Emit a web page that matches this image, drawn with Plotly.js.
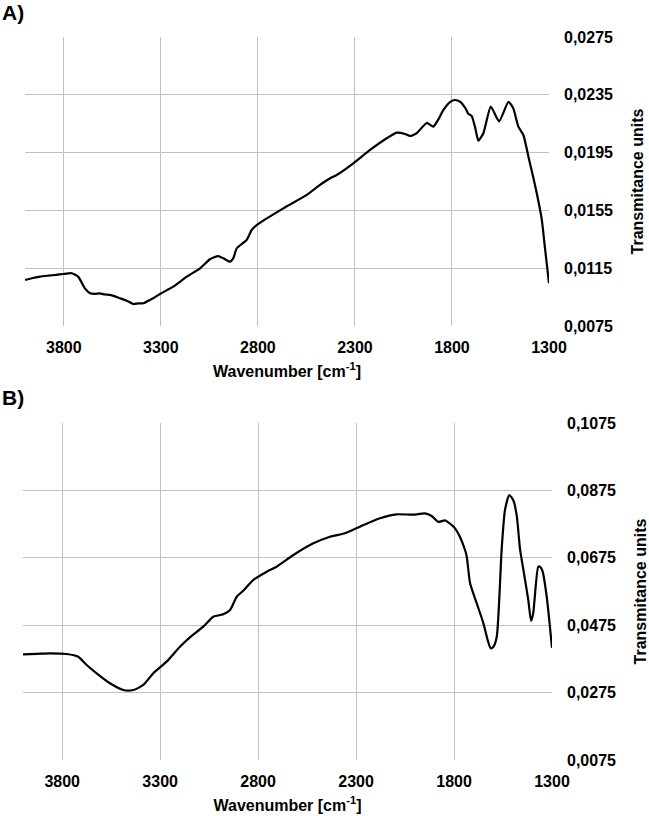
<!DOCTYPE html>
<html>
<head>
<meta charset="utf-8">
<script src="https://cdn.plot.ly/plotly-3.0.1.min.js"></script>
<style>
  body { margin: 0; background: #fff; }
  #chart { width: 649px; height: 816px; }
</style>
</head>
<body>
<div id="chart"></div>
<script>
// spectrum A (top panel)
var wnA = [4000, 3960, 3923, 3880, 3840, 3803, 3759, 3725, 3691, 3665, 3640, 3614, 3588, 3562,
  3536, 3510, 3476, 3442, 3416, 3390, 3365, 3339, 3299, 3236, 3167, 3098, 3047, 3004, 2978,
  2944, 2927, 2909, 2858, 2832, 2798, 2669, 2548, 2480, 2428, 2394, 2308, 2222, 2136, 2085,
  2042, 2016, 1982, 1930, 1896, 1870, 1844, 1810, 1784, 1758, 1730, 1716, 1698, 1680, 1664,
  1638, 1600, 1557, 1509, 1484, 1458, 1432, 1406, 1380, 1363, 1337, 1320, 1300];
var tA = [0.01068, 0.01082, 0.01091, 0.01098, 0.01104, 0.0111, 0.01115, 0.0109, 0.0101, 0.00976,
  0.00972, 0.00975, 0.00968, 0.00965, 0.00955, 0.00942, 0.00925, 0.00902, 0.00906, 0.00907,
  0.00925, 0.00942, 0.00976, 0.01022, 0.01091, 0.01149, 0.01212, 0.01234, 0.01218, 0.01195,
  0.01218, 0.01288, 0.01345, 0.01414, 0.01456, 0.01564, 0.01657, 0.01726, 0.01772, 0.01795,
  0.01876, 0.01968, 0.02049, 0.02088, 0.02079, 0.02065, 0.02084, 0.02155, 0.0213, 0.0218,
  0.02245, 0.023, 0.02314, 0.02302, 0.02255, 0.02218, 0.02203, 0.0212, 0.02032, 0.02084,
  0.02268, 0.02166, 0.02302, 0.02256, 0.0213, 0.02072, 0.01922, 0.01772, 0.01668, 0.01484,
  0.0128, 0.01045];

// spectrum B (bottom panel)
var wnB = [4000, 3930, 3862, 3777, 3718, 3675, 3624, 3556, 3488, 3437, 3386, 3335, 3267, 3199,
  3148, 3080, 3029, 2978, 2943, 2909, 2876, 2825, 2756, 2706, 2620, 2518, 2433, 2357, 2280,
  2178, 2093, 2008, 1948, 1914, 1880, 1846, 1812, 1795, 1770, 1744, 1735, 1718, 1684, 1650,
  1628, 1613, 1600, 1582, 1557, 1540, 1518, 1497, 1480, 1463, 1443, 1421, 1407, 1396, 1370,
  1360, 1348, 1327, 1300];
var tB = [0.03886, 0.039, 0.03916, 0.03896, 0.03816, 0.03569, 0.03322, 0.03026, 0.02827, 0.02827,
  0.02976, 0.03322, 0.03669, 0.04112, 0.04391, 0.04706, 0.05003, 0.05073, 0.05201, 0.05596,
  0.05774, 0.0609, 0.06338, 0.06486, 0.06833, 0.0718, 0.07376, 0.07477, 0.07674, 0.07922,
  0.0804, 0.0803, 0.0807, 0.0799, 0.07815, 0.07862, 0.07723, 0.07624, 0.07376, 0.06981,
  0.06783, 0.05993, 0.05397, 0.04803, 0.0430, 0.04065, 0.0410, 0.04408, 0.0700, 0.08168,
  0.08614, 0.0845, 0.0800, 0.0700, 0.0629, 0.05498, 0.0488, 0.0510, 0.0649, 0.0648, 0.0635,
  0.05596, 0.0408];

// tick labels
var xTicks = [3800, 3300, 2800, 2300, 1800, 1300];
var xTickText = ['3800', '3300', '2800', '2300', '1800', '1300'];
var yTicksA = [0.0075, 0.0115, 0.0155, 0.0195, 0.0235, 0.0275];
var yTextA = ['0,0075', '0,0115', '0,0155', '0,0195', '0,0235', '0,0275'];
var yTicksB = [0.0075, 0.0275, 0.0475, 0.0675, 0.0875, 0.1075];
var yTextB = ['0,0075', '0,0275', '0,0475', '0,0675', '0,0875', '0,1075'];

var fnt = {family: '"Liberation Sans", Arial, sans-serif', size: 16, color: '#000', weight: 'bold'};
var grid = '#c0c0c0';

var traceA = {
  x: wnA, y: tA, xaxis: 'x', yaxis: 'y',
  type: 'scatter', mode: 'lines',
  line: {color: '#000', width: 2.2, shape: 'spline', smoothing: 0.5}
};
var traceB = {
  x: wnB, y: tB, xaxis: 'x2', yaxis: 'y2',
  type: 'scatter', mode: 'lines',
  line: {color: '#000', width: 2.2, shape: 'spline', smoothing: 0.6}
};

function xax(dom) {
  return {
    domain: dom, range: [4000, 1300],
    tickvals: xTicks, ticktext: xTickText,
    tickfont: fnt, ticks: '', ticklabelstandoff: 10,
    showgrid: true, gridcolor: grid, gridwidth: 1,
    zeroline: false, showline: false,
    title: {text: 'Wavenumber [cm<sup>-1</sup>]', font: fnt, standoff: 10}
  };
}
function yax(dom, anchor, rng, vals, txt) {
  return {
    domain: dom, anchor: anchor, side: 'right', range: rng,
    tickvals: vals, ticktext: txt,
    tickfont: fnt, ticks: '', ticklabelstandoff: 14,
    showgrid: true, gridcolor: grid, gridwidth: 1,
    zeroline: false, showline: false,
    title: {text: 'Transmitance units', font: fnt, standoff: 19}
  };
}

var layout = {
  width: 649, height: 816,
  margin: {l: 23, r: 97, t: 37, b: 56},
  paper_bgcolor: '#fff', plot_bgcolor: '#fff',
  showlegend: false,
  xaxis: Object.assign(xax([2 / 529, 526 / 529]), {anchor: 'y'}),
  yaxis: yax([0.6003, 1], 'x', [0.0075, 0.0275], yTicksA, yTextA),
  xaxis2: Object.assign(xax([0, 1]), {anchor: 'y2'}),
  yaxis2: yax([0, 0.4661], 'x2', [0.0075, 0.1075], yTicksB, yTextB),
  annotations: [
    {text: 'A)', xref: 'paper', yref: 'paper', x: -23 / 529, y: 1 + 24 / 723,
     xanchor: 'left', yanchor: 'middle', showarrow: false,
     font: {family: fnt.family, size: 21, color: '#000', weight: 'bold'}},
    {text: 'B)', xref: 'paper', yref: 'paper', x: -23 / 529, y: (760 - 397) / 723,
     xanchor: 'left', yanchor: 'middle', showarrow: false,
     font: {family: fnt.family, size: 21, color: '#000', weight: 'bold'}}
  ]
};

Plotly.newPlot('chart', [traceA, traceB], layout, {staticPlot: true});
</script>
</body>
</html>
